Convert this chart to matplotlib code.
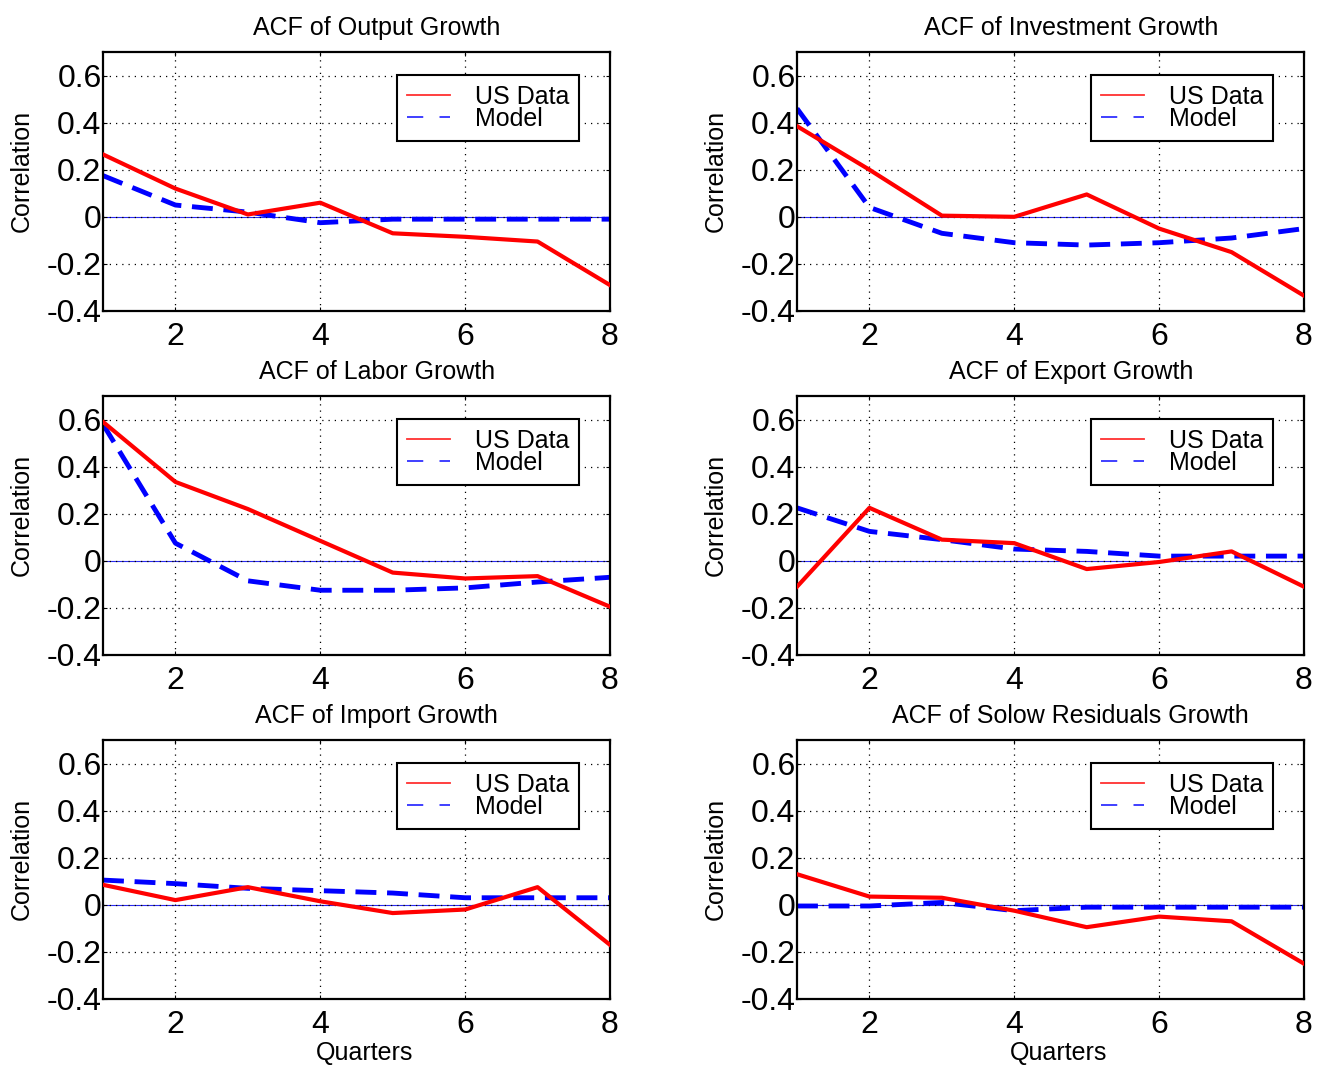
import matplotlib
matplotlib.use("Agg")
import matplotlib.pyplot as plt
from matplotlib.lines import Line2D
from matplotlib.ticker import FormatStrFormatter

plt.rcParams["font.family"] = ["Liberation Sans", "DejaVu Sans"]
plt.rcParams["axes.unicode_minus"] = False

lags = [1, 2, 3, 4, 5, 6, 7, 8]

titles = ["ACF of Output Growth", "ACF of Investment Growth",
          "ACF of Labor Growth", "ACF of Export Growth",
          "ACF of Import Growth", "ACF of Solow Residuals Growth"]

# US data autocorrelations, lags 1..8
us_output = [0.265, 0.12, 0.01, 0.06, -0.07, -0.085, -0.105, -0.29]
us_invest = [0.385, 0.20, 0.005, 0.0, 0.095, -0.05, -0.15, -0.335]
us_labor = [0.59, 0.335, 0.22, 0.085, -0.05, -0.075, -0.065, -0.195]
us_export = [-0.11, 0.225, 0.09, 0.075, -0.035, -0.005, 0.04, -0.11]
us_import = [0.085, 0.02, 0.075, 0.015, -0.035, -0.02, 0.075, -0.17]
us_solow = [0.13, 0.035, 0.03, -0.025, -0.095, -0.05, -0.07, -0.25]

# model autocorrelations, lags 1..8
md_output = [0.175, 0.05, 0.02, -0.025, -0.01, -0.01, -0.01, -0.01]
md_invest = [0.46, 0.04, -0.07, -0.11, -0.12, -0.11, -0.09, -0.05]
md_labor = [0.58, 0.075, -0.085, -0.125, -0.125, -0.115, -0.09, -0.07]
md_export = [0.225, 0.125, 0.09, 0.05, 0.04, 0.02, 0.02, 0.02]
md_import = [0.105, 0.09, 0.07, 0.06, 0.05, 0.03, 0.03, 0.03]
md_solow = [-0.005, -0.005, 0.01, -0.025, -0.01, -0.01, -0.01, -0.01]

us_all = [us_output, us_invest, us_labor, us_export, us_import, us_solow]
md_all = [md_output, md_invest, md_labor, md_export, md_import, md_solow]

W, H = 1318, 1065
fig = plt.figure(figsize=(W / 100, H / 100), dpi=100)

lefts = [103, 797]
tops = [52, 396, 740]
aw, ah = 507, 259

handles = [Line2D([], [], color="#ff3030", lw=1.3),
           Line2D([], [], color="#3030ff", lw=1.3, ls=(0, (9, 9)))]

for i in range(6):
    r, c = divmod(i, 2)
    ax = fig.add_axes([lefts[c] / W, 1 - (tops[r] + ah) / H, aw / W, ah / H])
    ax.axhline(0, color="#2a2aee", lw=0.8, zorder=1)
    ax.plot(lags, us_all[i], color="red", lw=3, zorder=3)
    ax.plot(lags, md_all[i], color="blue", lw=3.5, ls=(0, (4.3, 2.2)), zorder=2)
    ax.set_xlim(1, 8)
    ax.set_ylim(-0.4, 0.7)
    ax.set_xticks([2, 4, 6, 8])
    ax.set_yticks([-0.4, -0.2, 0, 0.2, 0.4, 0.6])
    ax.yaxis.set_major_formatter(FormatStrFormatter("%g"))
    ax.grid(True, color="black", lw=0.9, ls=(0, (1, 4)))
    ax.tick_params(labelsize=23, direction="in", length=3, width=0.8,
                   top=True, right=True)
    ax.tick_params(axis="y", pad=1)
    ax.tick_params(axis="x", pad=8)
    for s in ax.spines.values():
        s.set_linewidth(1.6)
    ax.set_title(titles[i], fontsize=18, x=0.54, pad=12)
    ax.set_ylabel("Correlation", fontsize=18)
    ax.yaxis.set_label_coords(-0.136, 0.54)
    if r == 2:
        ax.set_xlabel("Quarters", fontsize=18)
        ax.xaxis.set_label_coords(0.515, -0.163)
    leg = ax.legend(handles, ["US Data", "Model"], loc="upper right",
                    bbox_to_anchor=(0.939, 0.911), borderaxespad=0,
                    fontsize=18, fancybox=False, framealpha=1,
                    edgecolor="black", handlelength=1.7, handletextpad=1.0,
                    labelspacing=-0.1, borderpad=0.4)
    leg.get_frame().set_linewidth(1.5)

fig.savefig("out.png", dpi=100)
